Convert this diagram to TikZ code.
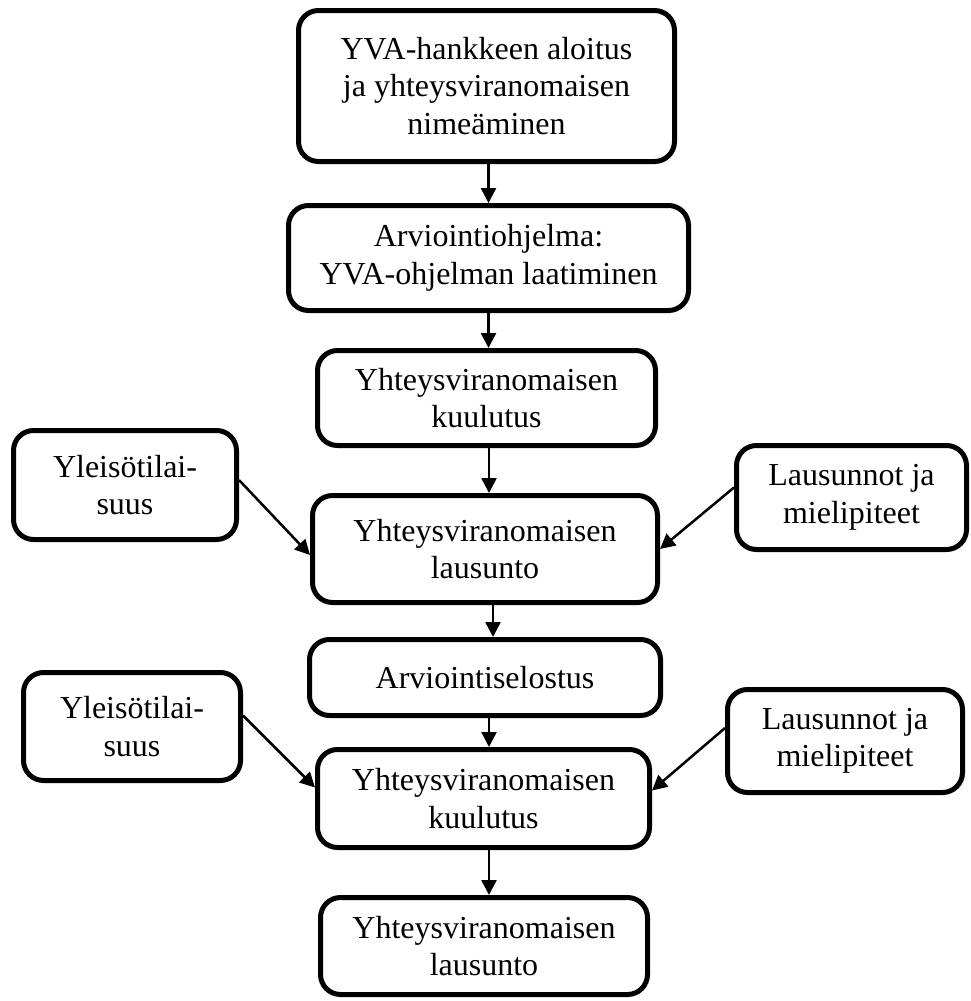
\documentclass[tikz,border=0pt]{standalone}
\usepackage{fontspec}
\setmainfont{Liberation Serif}
\usepackage{tikz}
\usetikzlibrary{arrows.meta}

\begin{document}
\begin{tikzpicture}[x=1pt,y=-1pt,
  vaihe/.style={rectangle,draw,line width=5pt,rounded corners=20pt,align=center,
    inner sep=2pt,font=\fontsize{32}{37.5}\selectfont},
  pil/.style={line width=2.5pt,-{Triangle[width=15pt,length=15pt]}}]
\useasboundingbox (0,0) rectangle (971,1001);

\node [vaihe,minimum width=376pt,minimum height=151pt] (aloitus) at (486.5,86)
  {YVA-hankkeen aloitus\\ja yhteysviranomaisen\\nimeäminen};
\node [vaihe,minimum width=400pt,minimum height=105pt] (ohjelma) at (488.5,258)
  {Arviointiohjelma:\\YVA-ohjelman laatiminen};
\node [vaihe,minimum width=338pt,minimum height=95pt] (kuul1) at (486.5,398)
  {Yhteysviranomaisen\\kuulutus};
\node [vaihe,minimum width=345pt,minimum height=107pt] (laus1) at (485,549)
  {Yhteysviranomaisen\\lausunto};
\node [vaihe,minimum width=223pt,minimum height=109pt] (yleiso1) at (125,485)
  {Yleisötilai-\\suus};
\node [vaihe,minimum width=230pt,minimum height=104pt] (mieli1) at (851.5,497.5)
  {Lausunnot ja\\mielipiteet};
\node [vaihe,minimum width=351pt,minimum height=76pt] (selostus) at (485,677.5)
  {Arviointiselostus};
\node [vaihe,minimum width=332pt,minimum height=98pt] (kuul2) at (483.5,798.5)
  {Yhteysviranomaisen\\kuulutus};
\node [vaihe,minimum width=217pt,minimum height=108pt] (yleiso2) at (132,726.5)
  {Yleisötilai-\\suus};
\node [vaihe,minimum width=235pt,minimum height=103pt] (mieli2) at (845,741)
  {Lausunnot ja\\mielipiteet};
\node [vaihe,minimum width=327pt,minimum height=97pt] (laus2) at (484,946)
  {Yhteysviranomaisen\\lausunto};

\draw [pil] ([xshift=2pt]aloitus.south) -- ([xshift=2pt]aloitus.south |- ohjelma.north);
\draw [pil] (ohjelma.south) -- (ohjelma.south |- kuul1.north);
\draw [pil] ([xshift=2.5pt]kuul1.south) -- ([xshift=2.5pt]kuul1.south |- laus1.north);
\draw [pil] ([xshift=8pt]laus1.south) -- ([xshift=8pt]laus1.south |- selostus.north);
\draw [pil] ([xshift=4pt]selostus.south) -- ([xshift=4pt]selostus.south |- kuul2.north);
\draw [pil] ([xshift=5.5pt]kuul2.south) -- ([xshift=5.5pt]kuul2.south |- laus2.north);
\draw [pil] ([yshift=5pt]yleiso1.east) -- ([yshift=-6pt]laus1.west);
\draw [pil] ([yshift=10pt]mieli1.west) -- (laus1.east);
\draw [pil] ([yshift=11pt]yleiso2.east) -- ([yshift=11pt]kuul2.west);
\draw [pil] ([yshift=13pt]mieli2.west) -- ([yshift=8pt]kuul2.east);
\end{tikzpicture}
\end{document}
